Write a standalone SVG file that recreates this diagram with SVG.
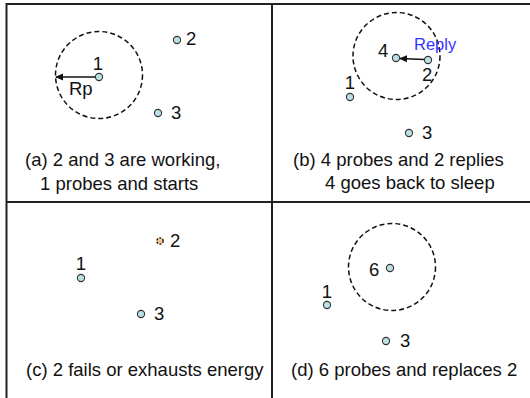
<svg xmlns="http://www.w3.org/2000/svg" width="530" height="398" viewBox="0 0 530 398">
<style>
text{font-family:"Liberation Sans",Arial,sans-serif;fill:#111}
.lbl{font-size:18.5px}
.cap{font-size:18.5px}
.node{fill:#b9e0e2;stroke:#333;stroke-width:1.1}
.dead{fill:#f6c38f;stroke:#111;stroke-width:1.3;stroke-dasharray:2,1.5}
.range{fill:none;stroke:#111;stroke-width:1.5;stroke-dasharray:5,3}
.frame{stroke:#222;stroke-width:2;fill:none}
.conn{stroke:#111;stroke-width:1.5;fill:none}
.reply{font-size:16.5px;fill:#3333ff}
</style>
<defs>
<marker id="ah" markerWidth="8" markerHeight="8" refX="7" refY="4" orient="auto" markerUnits="userSpaceOnUse">
<path d="M0,0.5 L8,4 L0,7.5 Z" fill="#111"/>
</marker>
</defs>
<rect width="530" height="398" fill="#fff"/>
<g id="frame">
<line class="frame" x1="6" y1="4" x2="530" y2="4"/>
<line class="frame" x1="6.5" y1="3" x2="6.5" y2="398"/>
<line class="frame" x1="272" y1="3" x2="272" y2="398"/>
<line class="frame" x1="6" y1="202" x2="530" y2="202"/>
</g>
<g id="ranges">
<circle class="range" cx="99" cy="75" r="43.5"/>
<circle class="range" cx="396.5" cy="56" r="43.5"/>
<circle class="range" cx="392" cy="267" r="43.5"/>
</g>
<g id="connectors">
<line class="conn" x1="95" y1="77" x2="56" y2="77" marker-end="url(#ah)"/>
<line class="conn" x1="424.5" y1="59.5" x2="400" y2="58.5" marker-end="url(#ah)"/>
</g>
<g id="panel-a">
<g id="a-node1"><circle class="node" cx="99" cy="77" r="3.6"/><text class="lbl" x="98" y="70" text-anchor="middle">1</text></g>
<g id="a-node2"><circle class="node" cx="177" cy="40" r="3.6"/><text class="lbl" x="186" y="45">2</text></g>
<g id="a-node3"><circle class="node" cx="158" cy="113" r="3.6"/><text class="lbl" x="171" y="119">3</text></g>
<text class="lbl" x="69" y="95">Rp</text>
<text class="cap" x="25" y="166">(a) 2 and 3 are working,</text>
<text class="cap" x="40" y="190">1 probes and starts</text>
</g>
<g id="panel-b">
<g id="b-node4"><circle class="node" cx="396" cy="58" r="3.6"/><text class="lbl" x="378" y="57">4</text></g>
<g id="b-node2"><circle class="node" cx="428" cy="60" r="3.6"/><text class="lbl" x="422" y="81">2</text></g>
<g id="b-node1"><circle class="node" cx="350" cy="97" r="3.6"/><text class="lbl" x="350" y="89" text-anchor="middle">1</text></g>
<g id="b-node3"><circle class="node" cx="409" cy="133" r="3.6"/><text class="lbl" x="422" y="139">3</text></g>
<text class="reply" x="414" y="50">Reply</text>
<text class="cap" x="293" y="166">(b) 4 probes and 2 replies</text>
<text class="cap" x="325" y="189">4 goes back to sleep</text>
</g>
<g id="panel-c">
<g id="c-node2"><circle class="dead" cx="160" cy="241" r="3.2"/><text class="lbl" x="170" y="247">2</text></g>
<g id="c-node1"><circle class="node" cx="81" cy="278" r="3.6"/><text class="lbl" x="81" y="270" text-anchor="middle">1</text></g>
<g id="c-node3"><circle class="node" cx="141" cy="314" r="3.6"/><text class="lbl" x="154" y="320">3</text></g>
<text class="cap" x="26" y="376">(c) 2 fails or exhausts energy</text>
</g>
<g id="panel-d">
<g id="d-node6"><circle class="node" cx="390" cy="268" r="3.6"/><text class="lbl" x="369" y="276">6</text></g>
<g id="d-node1"><circle class="node" cx="327" cy="305" r="3.6"/><text class="lbl" x="327" y="298" text-anchor="middle">1</text></g>
<g id="d-node3"><circle class="node" cx="386" cy="341" r="3.6"/><text class="lbl" x="400" y="347">3</text></g>
<text class="cap" x="291" y="376">(d) 6 probes and replaces 2</text>
</g>
</svg>
